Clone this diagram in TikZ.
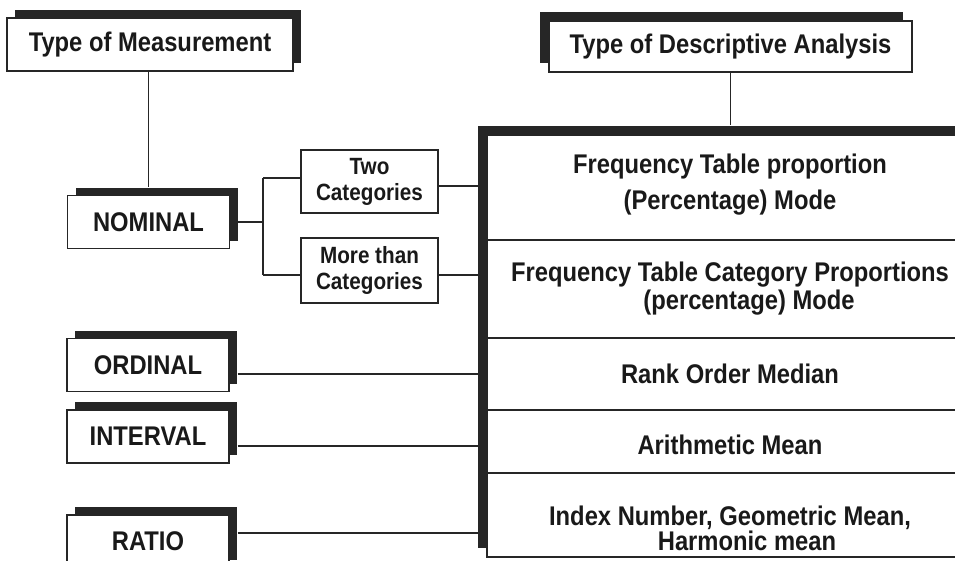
\documentclass[tikz,border=0pt]{standalone}
\usepackage{fontspec}
\setmainfont{Liberation Sans}[FakeStretch=0.88]
\usetikzlibrary{calc,shadows}

\tikzset{
  base/.style={font=\bfseries\fontsize{27pt}{28pt}\selectfont, text=black!90},
  plain/.style={base, draw=black!85, line width=1.3pt, fill=white, inner sep=0pt, align=center},
  shadowUR/.style={plain, drop shadow={shadow xshift=8pt, shadow yshift=8pt, fill=black!85, opacity=1}},
  shadowUL/.style={plain, drop shadow={shadow xshift=-9pt, shadow yshift=9pt, fill=black!85, opacity=1}},
  smallbox/.style={plain, font=\bfseries\fontsize{23.5pt}{26pt}\selectfont, minimum width=137pt},
  leftbox/.style={shadowUR, minimum width=162pt, minimum height=53pt},
  rowbox/.style={plain, minimum width=486pt},
  link/.style={draw=black!85, line width=1.3pt}
}

\begin{document}
\begin{tikzpicture}[x=1pt, y=-1pt]
  \useasboundingbox (0,0) rectangle (955,560);
  \clip (0,0) rectangle (955,560);
  \fill[white] (0,0) rectangle (955,560);

  % headings
  \node[shadowUR, minimum width=286pt, minimum height=53pt] (tm) at (150,44.5) {Type of Measurement};
  \node[shadowUL, minimum width=363pt, minimum height=51pt] (tda) at (730.5,46.5) {Type of Descriptive Analysis};

  % measurement levels
  \node[leftbox] (nom) at (148.5,222) {NOMINAL};
  \node[leftbox] (ord) at (148,365) {ORDINAL};
  \node[leftbox] (int) at (148,436.5) {INTERVAL};
  \node[leftbox] (rat) at (148,541.5) {RATIO};

  % nominal sub-categories
  \node[smallbox, minimum height=63pt] (two) at (369.5,181.5) {Two\\Categories};
  \node[smallbox, minimum height=65pt] (more) at (369.5,270.5) {More than\\Categories};

  % shadow of the analysis table
  \fill[black!85] (478,126) rectangle (964,548);

  % analysis table rows
  \node[rowbox, minimum height=105pt] (r1) at (730,187.5) {};
  \node[rowbox, minimum height=98pt]  (r2) at (730,289) {};
  \node[rowbox, minimum height=72pt]  (r3) at (730,374) {};
  \node[rowbox, minimum height=63pt]  (r4) at (730,441.5) {};
  \node[rowbox, minimum height=84pt]  (r5) at (730,515) {};

  \node[base, align=center, font=\bfseries\fontsize{27pt}{36pt}\selectfont] (t1) at ([yshift=3pt]r1.center)
    {Frequency Table proportion\\(Percentage) Mode};
  \node[base, align=center, font=\bfseries\fontsize{27pt}{28pt}\selectfont] (t2) at (r2.center)
    {Frequency Table Category Proportions\\\hspace*{38pt}(percentage) Mode};
  \node[base] (t3) at (r3.center) {Rank Order Median};
  \node[base] (t4) at ([yshift=-3pt]r4.center) {Arithmetic Mean};
  \node[base, align=center, font=\bfseries\fontsize{27pt}{25pt}\selectfont] (t5) at ([yshift=-13pt]r5.center)
    {Index Number, Geometric Mean,\\\hspace*{34pt}Harmonic mean};

  % connector end points
  \coordinate (jt) at (263,178);
  \coordinate (jb) at (263,275);
  \coordinate (o1) at ($(ord.east)+(8,9)$);
  \coordinate (i1) at ($(int.east)+(8,9.5)$);
  \coordinate (a1) at ($(rat.east)+(8,-8.5)$);
  \coordinate (w1) at ([yshift=-4.5pt]two.east);
  \coordinate (m1) at ([yshift=-4.5pt]more.east);

  % connectors
  \draw[link] (nom.north |- tm.south) -- ([yshift=8pt]nom.north);
  \draw[link] (tda.south) -- ([yshift=9pt]tda.south |- r1.north);
  \draw[link] (nom.east) -- (nom.east -| jt);
  \draw[link] (jt) -- (jb);
  \draw[link] (jt) -- (jt -| two.west);
  \draw[link] (jb) -- (jb -| more.west);
  \draw[link] (w1) -- (w1 -| r1.west);
  \draw[link] (m1) -- (m1 -| r2.west);
  \draw[link] (o1) -- (o1 -| r3.west);
  \draw[link] (i1) -- (i1 -| r4.west);
  \draw[link] (a1) -- (a1 -| r5.west);
\end{tikzpicture}
\end{document}
